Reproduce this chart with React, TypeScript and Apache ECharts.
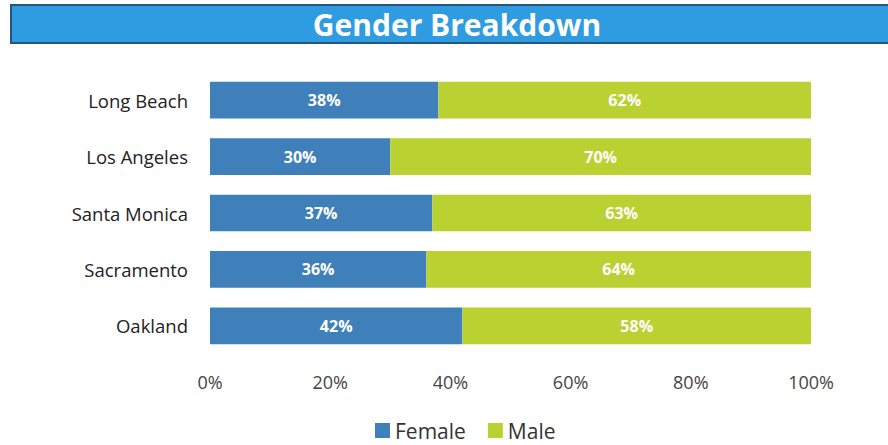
import React, { useEffect, useRef } from "react";
import * as echarts from "echarts";

const cities = ["Long Beach", "Los Angeles", "Santa Monica", "Sacramento", "Oakland"];
const female = [38, 30, 37, 36, 42];
const male = [62, 70, 63, 64, 58];
const xTicks = [0, 20, 40, 60, 80, 100];

export default function App() {
  const ref = useRef<HTMLDivElement>(null);
  useEffect(() => {
    const chart = echarts.init(ref.current!, null, { renderer: "svg" });
    chart.setOption({
      animation: false,
      backgroundColor: "#ffffff",
      graphic: [
        {
          type: "rect",
          shape: { x: 11, y: 5, width: 890, height: 38 },
          style: { fill: "#2f9be0", stroke: "#24557f", lineWidth: 2 },
        },
        {
          type: "text",
          x: 457,
          y: 24,
          style: {
            text: "Gender Breakdown",
            fill: "#ffffff",
            font: "bold 30px 'Open Sans', sans-serif",
            textAlign: "center",
            textVerticalAlign: "middle",
          },
        },
      ],
      legend: {
        bottom: -1,
        left: 370,
        itemWidth: 15,
        itemHeight: 15,
        itemGap: 22,
        icon: "rect",
        textStyle: { fontSize: 21, color: "#333", fontFamily: "'Open Sans', sans-serif" },
        data: ["Female", "Male"],
      },
      grid: { left: 210, right: 77, top: 72, height: 282 },
      xAxis: {
        type: "value",
        min: 0,
        max: 100,
        interval: 20,
        axisLine: { show: false },
        axisTick: { show: false },
        splitLine: { show: false },
        axisLabel: {
          formatter: (v: number) => (xTicks.includes(v) ? v + "%" : ""),
          fontSize: 18,
          color: "#444",
          margin: 19,
          fontFamily: "'Open Sans', sans-serif",
        },
      },
      yAxis: {
        type: "category",
        inverse: true,
        data: cities,
        axisLine: { show: false },
        axisTick: { show: false },
        axisLabel: {
          fontSize: 18.5,
          color: "#222",
          margin: 22,
          fontFamily: "'Open Sans', sans-serif",
        },
      },
      series: [
        {
          name: "Female",
          type: "bar",
          stack: "g",
          data: female,
          barCategoryGap: "35%",
          itemStyle: { color: "#3f80bb" },
          label: {
            show: true,
            position: "inside",
            formatter: "{c}%",
            color: "#ffffff",
            fontWeight: "bold",
            fontSize: 16,
            fontFamily: "'Open Sans', sans-serif",
          },
        },
        {
          name: "Male",
          type: "bar",
          stack: "g",
          data: male,
          barCategoryGap: "35%",
          itemStyle: { color: "#b9d232" },
          label: {
            show: true,
            position: "inside",
            formatter: "{c}%",
            color: "#ffffff",
            fontWeight: "bold",
            fontSize: 16,
            fontFamily: "'Open Sans', sans-serif",
          },
        },
      ],
    });
    return () => chart.dispose();
  }, []);
  return <div ref={ref} style={{ width: 888, height: 445, position: "fixed", left: 0, top: 0 }} />;
}
